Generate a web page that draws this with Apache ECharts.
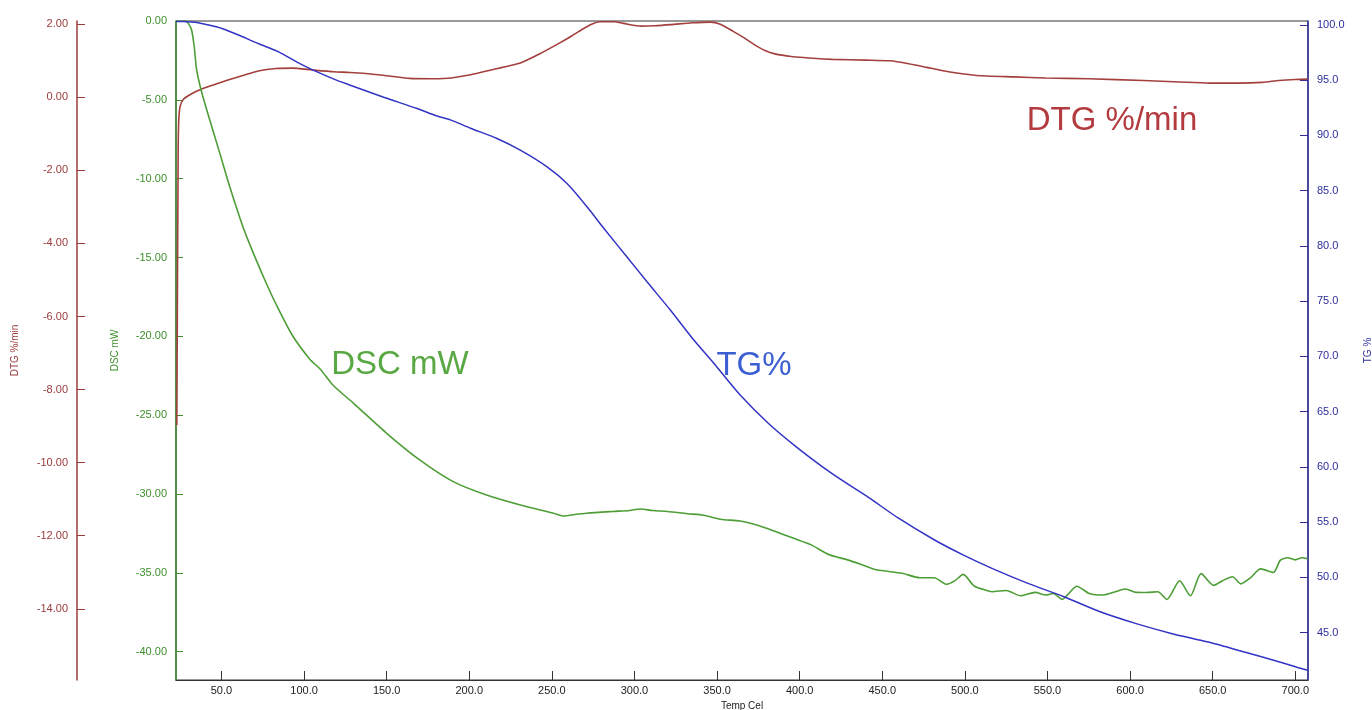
<!DOCTYPE html>
<html>
<head>
<meta charset="utf-8">
<script src="https://cdn.jsdelivr.net/npm/echarts@6/dist/echarts.min.js"></script>
<style>html,body{margin:0;padding:0;background:#fff;}#c{width:1372px;height:710px;}</style>
</head>
<body>
<div id="c"></div>
<script>
// ---- tick values ----
const tempTicks = [50,100,150,200,250,300,350,400,450,500,550,600,650,700];
const dscTicks = [0,-5,-10,-15,-20,-25,-30,-35,-40];
const dtgTicks = [2,0,-2,-4,-6,-8,-10,-12,-14];
const tgTicks = [100,95,90,85,80,75,70,65,60,55,50,45];

// ---- DTG %/min ----
const dtgTemp = [23.0,23.8,24.2,25.0,27.0,32,38,45,53,63,73,83,93,105,118,128,145,164,178,189,205,220,231,243,254,262,268,274,279,288,296,304,312,322,335,346,352,360,366,373,379,385,395,408,420,440,455,466,477,490,507,530,549,575,608,630,648,665,680,690,700,707.5];
const dtgValues = [-8.97,-1.5,-0.6,-0.25,-0.05,0.1,0.23,0.34,0.46,0.6,0.73,0.79,0.8,0.75,0.7,0.68,0.62,0.52,0.51,0.53,0.66,0.82,0.94,1.2,1.47,1.68,1.85,2.0,2.07,2.07,2.0,1.95,1.96,1.99,2.04,2.06,2.0,1.8,1.64,1.43,1.28,1.19,1.12,1.07,1.04,1.02,1.0,0.92,0.82,0.7,0.6,0.56,0.53,0.51,0.46,0.42,0.39,0.39,0.41,0.46,0.49,0.5];

// ---- DSC mW ----
const dscTemp = [22.5,28,30,32,33.5,35,38,43,49,55,63,70,77,83,93,103.5,110,117.6,130,150,170,190,210,231,251,257,264,271,287,297,303.5,311,320,332,342,352,364,375,385,396,407,418,429,438,446.5,462,472.7,481.4,489,494,499,505.5,511,516.4,525,533.8,542.6,549,553.5,559,563,567.7,575.3,584,591,597.2,603.7,610,616.8,622.3,630,636.5,643,650.6,656,662,667,673,679,686.7,691,695.4,700,704,707.5];
const dscValues = [0,0,-0.15,-0.6,-1.6,-3.1,-4.5,-6.3,-8.38,-10.5,-13.05,-14.9,-16.6,-17.95,-19.95,-21.45,-22.1,-23.1,-24.25,-26.15,-27.84,-29.2,-30.05,-30.7,-31.22,-31.4,-31.3,-31.22,-31.11,-31.05,-30.95,-31.05,-31.11,-31.25,-31.35,-31.6,-31.72,-32.0,-32.37,-32.8,-33.23,-33.86,-34.18,-34.5,-34.81,-35.03,-35.31,-35.31,-35.73,-35.5,-35.1,-35.83,-36.05,-36.2,-36.12,-36.46,-36.24,-36.41,-36.31,-36.69,-36.3,-35.85,-36.31,-36.41,-36.2,-36.03,-36.24,-36.25,-36.2,-36.69,-35.5,-36.46,-35.05,-35.8,-35.5,-35.25,-35.7,-35.3,-34.75,-34.98,-34.2,-34.05,-34.18,-34.05,-34.1];

// ---- TG % ----
const tgTemp = [22.5,27,32,37.3,47.5,55,63.2,67.6,75,83.3,87.8,96,105.5,119.6,128,148.2,168.4,180.5,188.6,200.7,216.8,230.9,247.1,259.2,271.3,281.4,295.5,307.6,321.7,335.8,347.9,364,381,398.5,420.3,442.1,459.6,481.4,498.9,516.4,538.2,560,581.9,603.7,625.5,647.4,669.2,691,704.1,707.5];
const tgValues = [100.3,100.3,100.25,100.15,99.8,99.4,98.9,98.6,98.15,97.65,97.3,96.6,95.9,95.0,94.54,93.45,92.43,91.75,91.4,90.65,89.72,88.66,87.15,85.65,83.54,81.6,79.0,76.75,74.2,71.5,69.4,66.5,63.95,61.75,59.32,57.2,55.38,53.41,52.04,50.82,49.46,48.25,46.89,45.82,44.91,44.15,43.25,42.33,41.73,41.6];

const zip = (a, b) => a.map((t, i) => [t, b[i]]);

const FONT = 'Liberation Sans, Arial, sans-serif';
const cDTG = '#9a3a3a', cDSC = '#3e8e2c', cTG = '#2e2e9e';

const chart = echarts.init(document.getElementById('c'), null, {renderer: 'canvas'});
chart.setOption({
  animation: false,
  backgroundColor: '#fff',
  grid: {left: 176, right: 64, top: 21, bottom: 30, show: true, borderColor: '#333', borderWidth: 1,
         containLabel: false, outerBoundsMode: 'none'},
  xAxis: {
    type: 'value', min: 22.5, max: 707.7,
    name: 'Temp Cel', nameLocation: 'middle', nameGap: 17,
    nameTextStyle: {color: '#222', fontSize: 10, fontFamily: FONT},
    axisLine: {onZero: false, lineStyle: {color: '#333', width: 1.2}},
    axisTick: {inside: true, length: 9, customValues: tempTicks, lineStyle: {color: '#333'}},
    axisLabel: {customValues: tempTicks, margin: 5, color: '#222', fontSize: 11, fontFamily: FONT, formatter: v => v.toFixed(1)},
    splitLine: {show: false}
  },
  yAxis: [
    {
      type: 'value', position: 'left', offset: 0, min: -41.8, max: 0,
      name: 'DSC mW', nameLocation: 'middle', nameRotate: 90, nameGap: 56,
      nameTextStyle: {color: cDSC, fontSize: 10, fontFamily: FONT},
      axisLine: {show: true, onZero: false, lineStyle: {color: cDSC, width: 1.5}},
      axisTick: {show: true, inside: true, length: 7, customValues: dscTicks, lineStyle: {color: cDSC}},
      axisLabel: {customValues: dscTicks, margin: 9, color: cDSC, fontSize: 11, fontFamily: FONT, formatter: v => v.toFixed(2)},
      splitLine: {show: false}
    },
    {
      type: 'value', position: 'left', offset: 99, min: -15.95, max: 2.09,
      name: 'DTG %/min', nameLocation: 'middle', nameRotate: 90, nameGap: 57,
      nameTextStyle: {color: cDTG, fontSize: 10, fontFamily: FONT},
      axisLine: {show: true, onZero: false, lineStyle: {color: cDTG, width: 1.5}},
      axisTick: {show: true, inside: true, length: 8, customValues: dtgTicks, lineStyle: {color: cDTG}},
      axisLabel: {customValues: dtgTicks, margin: 9, color: cDTG, fontSize: 11, fontFamily: FONT, formatter: v => v.toFixed(2)},
      splitLine: {show: false}
    },
    {
      type: 'value', position: 'right', offset: 0, min: 40.72, max: 100.35,
      name: 'TG %', nameLocation: 'middle', nameRotate: 90, nameGap: 55,
      nameTextStyle: {color: cTG, fontSize: 10, fontFamily: FONT},
      axisLine: {show: true, onZero: false, lineStyle: {color: cTG, width: 1.5}},
      axisTick: {show: true, inside: true, length: 8, customValues: tgTicks, lineStyle: {color: cTG}},
      axisLabel: {customValues: tgTicks, margin: 9, color: cTG, fontSize: 11, fontFamily: FONT, formatter: v => v.toFixed(1)},
      splitLine: {show: false}
    }
  ],
  series: [
    {name: 'DTG', type: 'line', yAxisIndex: 1, data: zip(dtgTemp, dtgValues), showSymbol: false, smooth: 0.2,
     lineStyle: {color: '#a3403d', width: 1.6}, z: 3},
    {name: 'DSC', type: 'line', yAxisIndex: 0, data: zip(dscTemp, dscValues), showSymbol: false, smooth: 0.25,
     lineStyle: {color: '#4d9e36', width: 1.6}, z: 3},
    {name: 'TG', type: 'line', yAxisIndex: 2, data: zip(tgTemp, tgValues), showSymbol: false, smooth: 0.25,
     lineStyle: {color: '#3333c4', width: 1.5}, z: 3}
  ],
  graphic: [
    {type: 'text', x: 1112, y: 121, style: {text: 'DTG %/min', fill: '#b33b3f', font: '33px ' + FONT, textAlign: 'center', textVerticalAlign: 'middle'}},
    {type: 'text', x: 400, y: 365, style: {text: 'DSC mW', fill: '#5aa843', font: '33px ' + FONT, textAlign: 'center', textVerticalAlign: 'middle'}},
    {type: 'text', x: 754, y: 366, style: {text: 'TG%', fill: '#3b5fd2', font: '33px ' + FONT, textAlign: 'center', textVerticalAlign: 'middle'}}
  ]
});
</script>
</body>
</html>
